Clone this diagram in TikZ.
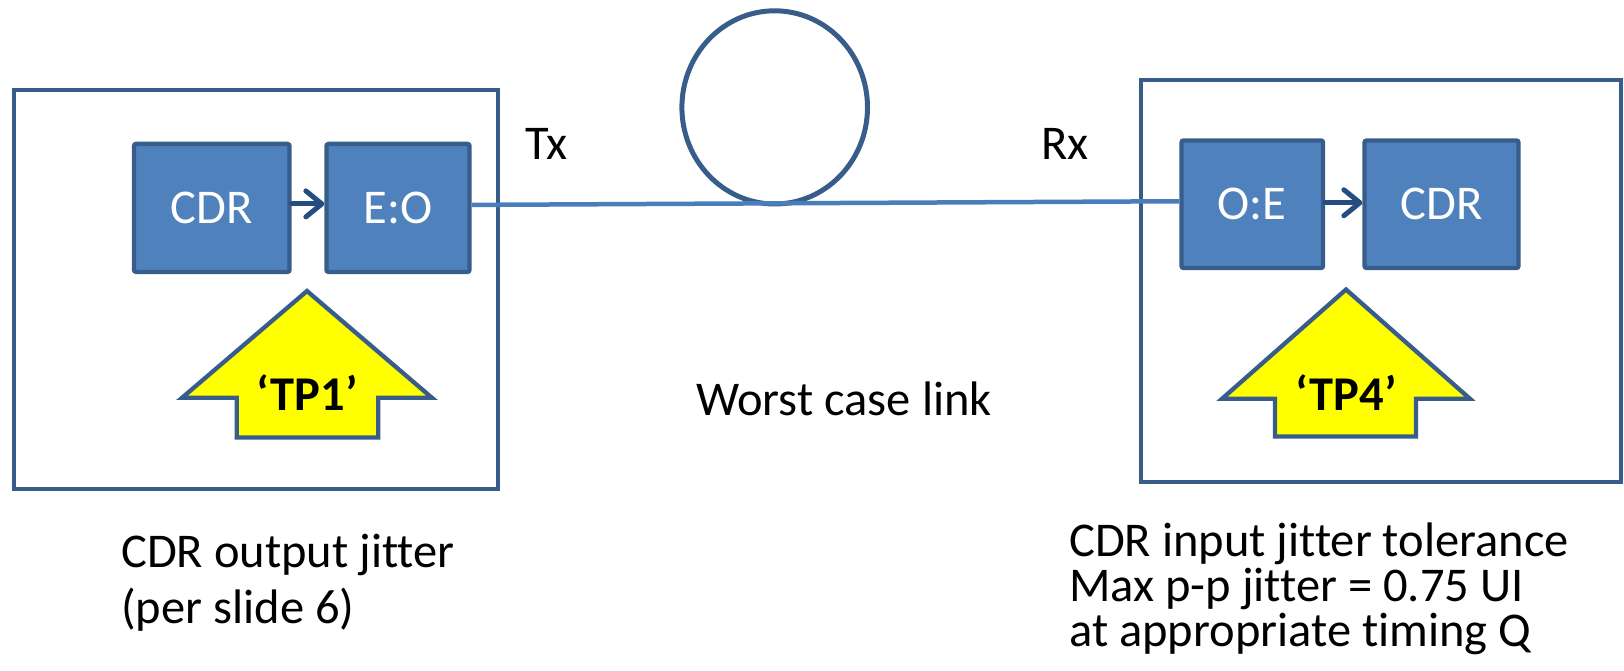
\documentclass[tikz,border=0pt]{standalone}
\usepackage{fontspec}
\setmainfont{Carlito}[Ligatures=NoCommon]
\usetikzlibrary{arrows.meta,shapes.geometric}
\definecolor{boxfill}{HTML}{4F81BD}
\definecolor{boxline}{HTML}{385D8A}
\definecolor{fiber}{HTML}{4A7EBB}
\definecolor{linkarrow}{HTML}{264D80}
\definecolor{probefill}{HTML}{FFFF00}
\begin{document}
\begin{tikzpicture}[x=1pt,y=-1pt,
  every node/.style={inner sep=0pt, font=\fontsize{48.5}{55}\selectfont},
  frame/.style={draw=boxline, line width=4pt},
  block/.style={draw=boxline, fill=boxfill, line width=4.3pt, rounded corners=2pt, text=white},
  innerarrow/.style={draw=linkarrow, line width=5pt, line cap=round,
    -{Straight Barb[length=16pt,width=26pt,line cap=round,line join=round]}},
  fiberline/.style={draw=fiber, line width=4.5pt},
  probe/.style={draw=boxline, fill=probefill, line width=4.3pt, line join=miter},
  probetext/.style={anchor=base, font=\fontsize{48.5}{55}\selectfont\bfseries},
  label/.style={anchor=base west, text=black}
]
\useasboundingbox (0,0) rectangle (1624,671);

% transmitter and receiver enclosures
\node[frame, minimum width=484, minimum height=399] (txframe) at (256,289.5) {};
\node[frame, minimum width=480.5, minimum height=401] (rxframe) at (1380.75,281) {};

% functional blocks
\node[block, minimum width=155.5, minimum height=128] (cdrtx) at (211.75,207.9) {CDR};
\node[block, minimum width=143, minimum height=128] (eo) at (398,207.9) {E:O};
\node[block, minimum width=141.5, minimum height=127.5] (oe) at (1252.25,204.25) {O:E};
\node[block, minimum width=154, minimum height=127.5] (cdrrx) at (1441.5,204.25) {CDR};

\draw[innerarrow] ([yshift=4pt]cdrtx.east) -- ([yshift=4pt]eo.west);
\draw[innerarrow] ([yshift=1.5pt]oe.east) -- ([yshift=1.5pt]cdrrx.west);

% fibre loop and link
\node[draw=boxline, line width=5pt, ellipse, minimum width=185.6, minimum height=193.2] (loop) at (774.7,107.4) {};
\draw[fiberline] ([yshift=3pt]eo.east) -- ([yshift=3pt]oe.west);

% test point markers
\draw[probe] (307,291) -- (432,397.8) -- (378.3,397.8) -- (378.3,437.5)
  -- (236.7,437.5) -- (236.7,397.8) -- (182,397.8) -- cycle;
\node[probetext] (tp1) at (307,410) {‘TP1’};
\draw[probe] (1346,289.5) -- (1470,398.8) -- (1416,398.8) -- (1416,436.5)
  -- (1275,436.5) -- (1275,398.8) -- (1222,398.8) -- cycle;
\node[probetext] (tp4) at (1346,410) {‘TP4’};

% labels
\node[label] (tx) at (525,160) {Tx};
\node[label] (rx) at (1041,160) {Rx};
\node[label] (worst) at (696,415) {Worst case link};
\node[label] (outA) at (121,567) {CDR output jitter};
\node[label] (outB) at (121,623.3) {(per slide 6)};
\node[label] (inA) at (1069,556.7) {CDR input jitter tolerance};
\node[label] (inB) at (1069,601.7) {Max p-p jitter = 0.75 UI};
\node[label] (inC) at (1069,646.7) {at appropriate timing Q};
\end{tikzpicture}
\end{document}
